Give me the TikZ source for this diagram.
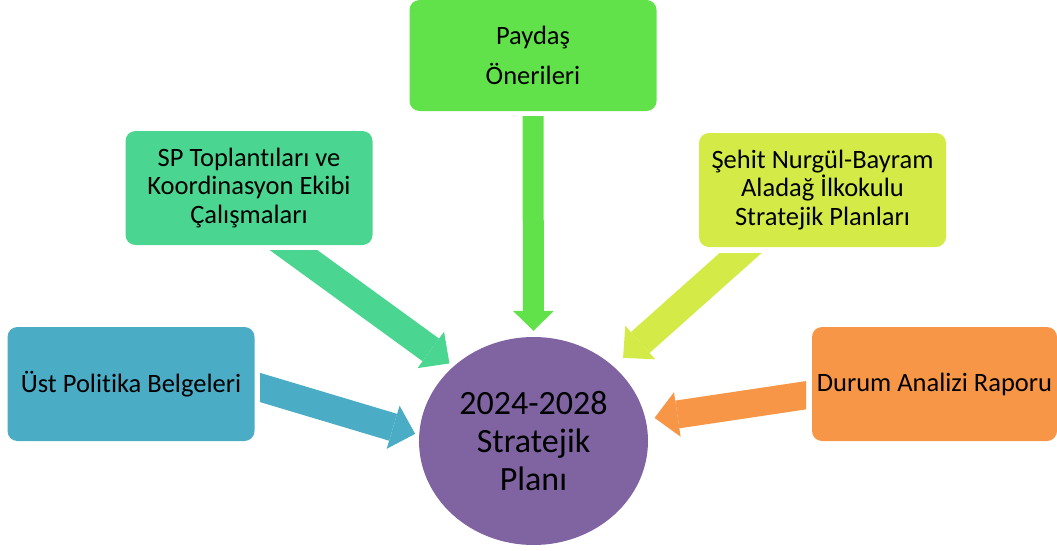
\documentclass[tikz,border=0pt]{standalone}
\usepackage{fontspec}
\setmainfont{Carlito}[Ligatures=NoCommon]
\usetikzlibrary{arrows.meta,shapes.geometric}
\definecolor{ustblue}{HTML}{4BACC6}
\definecolor{spgreen}{HTML}{4AD690}
\definecolor{paygreen}{HTML}{62E24A}
\definecolor{okullime}{HTML}{D4EB47}
\definecolor{durumorange}{HTML}{F79646}
\definecolor{planpurple}{HTML}{8064A2}

\begin{document}
\begin{tikzpicture}[x=1pt,y=-1pt,
	box/.style={rounded corners=10pt,minimum width=247pt,minimum height=114pt,
	inner sep=2pt,align=center,font=\fontsize{26.5}{28.5}\selectfont},
	hub/.style={ellipse,fill=planpurple,minimum width=229pt,minimum height=208pt,
	inner sep=0pt,align=center,font=\fontsize{34}{38}\selectfont},
	feed/.style={line width=28pt,-{Triangle[width=45pt,length=23pt,line width=0pt]}}]
	\useasboundingbox (0,0) rectangle (1057,551);
	\node[box,fill=paygreen,minimum height=111pt] (pay) at (533,55.5) {Paydaş\\[11.5pt]Önerileri};
	\node[box,fill=spgreen] (sp) at (249,188) {SP Toplantıları ve\\Koordinasyon Ekibi\\Çalışmaları};
	\node[box,fill=okullime] (okul) at (822.5,190) {Şehit Nurgül-Bayram\\Aladağ İlkokulu\\Stratejik Planları};
	\node[box,fill=ustblue] (ust) at (131,384) {Üst Politika Belgeleri};
	\node[box,fill=durumorange,minimum width=245pt] (durum) at (934.5,384) {Durum Analizi Raporu};
	\node[hub] (plan) at (533.5,441) {2024-2028\\Stratejik\\Planı};
	% block arrows into the plan
	\draw[feed,paygreen,line width=21pt,-{Triangle[width=41pt,length=20pt,line width=0pt]},
		shorten <=5pt,shorten >=6pt] (pay.south) -- (plan.north);
	\begin{scope}
		\clip (0,250) rectangle (1057,551);
		\draw[feed,spgreen,shorten >=5pt] ([xshift=28.7pt,yshift=6.6pt]sp.south) -- (plan.137);
	\end{scope}
	\begin{scope}
		\clip (0,253) rectangle (1057,551);
		\draw[feed,okullime,shorten >=12.8pt] ([xshift=-67.4pt,yshift=7.1pt]okul.south) -- (plan.43.5);
	\end{scope}
	\begin{scope}
		\clip (260,0) rectangle (1057,551);
		\draw[feed,ustblue,shorten >=4pt] ([xshift=-14pt,yshift=2.3pt]ust.east) -- (plan.177.1);
	\end{scope}
	\begin{scope}
		\clip (0,0) rectangle (806,551);
		\draw[feed,durumorange,shorten >=9pt] ([xshift=13.8pt,yshift=-8.3pt]durum.west) -- (plan.11.7);
	\end{scope}
\end{tikzpicture}
\end{document}
